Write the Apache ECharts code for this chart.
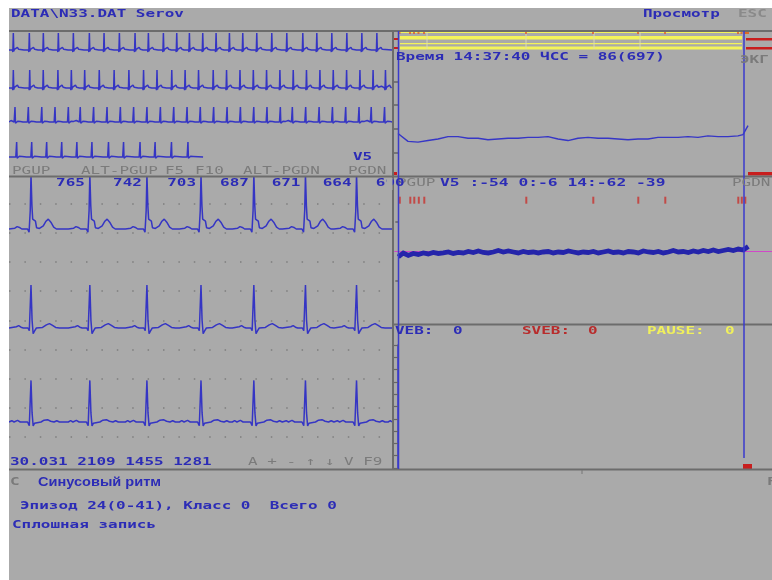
<!DOCTYPE html>
<html>
<head>
<meta charset="utf-8">
<script src="https://cdn.jsdelivr.net/npm/echarts@6/dist/echarts.min.js"></script>
<style>
html,body{margin:0;padding:0;background:#fff;}
#c{width:772px;height:580px;}
</style>
</head>
<body>
<div id="c"></div>
<script>
// ---------- data ----------
// overview rows: time of the first R wave (ms), RR intervals (ms), end of trace (ms)
const overviewStart = [227, 227, 315, 402];
const overviewRR1 = [840, 735, 788, 788, 840, 770, 805, 822, 700, 788, 700, 665, 700, 700, 700, 700, 735, 788, 788, 840, 735, 788, 788, 788, 788];
const overviewRR2 = [860, 710, 770, 705, 700, 765, 780, 775, 770, 705, 775, 700, 705, 770, 700, 705, 700, 695, 700, 700, 695, 705, 700, 700, 700, 690, 650];
const overviewRR3 = [700, 705, 695, 700, 625, 700, 705, 700, 695, 700, 705, 700, 700, 695, 700, 705, 700, 700, 695, 700, 630, 700, 705, 700, 695, 700, 640, 700];
const overviewRR4 = [790, 785, 790, 795, 790, 870, 790, 865, 790, 860, 865];
const overviewEnd = [20100, 20100, 20100, 10185];
// averaged complex used in the overview rows: [ms from R, relative amplitude]
const overviewBeat = [[-280, 0], [-210, 0.1], [-150, 0], [-45, 0], [-25, -0.12], [0, 1], [25, -0.08], [55, 0.04], [140, 0.05], [215, 0.16], [280, 0.04], [320, 0]];

// expanded strip: first R wave (ms) and the RR intervals printed above it
const firstBeat = 286;
const rrIntervals = [765, 742, 703, 687, 671, 664, 690];
// complexes of the three channels: [ms from R, mV]
const leadA = [[-280, 0], [-210, 0.03], [-180, 0.09], [-150, 0.06], [-120, 0], [-45, 0], [-25, -0.12], [-10, 0.7], [0, 2.1], [12, 0.9], [22, 0.38], [40, 0.32], [58, 0.3], [72, 0.05], [110, 0.02], [160, 0.12], [195, 0.3], [225, 0.38], [258, 0.26], [295, 0.07], [330, 0], [370, 0]];
const leadB = [[-280, 0], [-190, 0.05], [-160, 0.09], [-130, 0.03], [-100, 0], [-40, 0], [-22, -0.1], [0, 1.65], [14, 0.3], [28, -0.22], [45, -0.12], [70, 0], [150, 0.02], [200, 0.12], [240, 0.17], [280, 0.1], [320, 0.02], [370, 0]];
const leadC = [[-280, 0], [-250, 0.05], [-220, 0], [-175, 0.06], [-140, 0], [-45, 0], [-22, -0.14], [0, 1.6], [14, 0.35], [28, -0.15], [45, -0.05], [70, 0], [130, 0], [170, 0.07], [215, 0.09], [255, 0.03], [300, 0], [335, 0.05], [370, 0]];

// heart-rate trend (bpm) over the episode
const trendT = [0, 1, 2, 3, 4, 5, 6, 7, 8, 9, 10, 11, 12, 13, 14, 15, 16, 17, 18, 19, 20, 21, 22, 23, 24, 25, 26, 27, 28, 29, 30, 31, 32, 33, 34, 34.5, 35];
const trendHR = [94, 84, 83, 85, 87, 90, 90, 88, 88, 86, 87, 88, 88, 89, 89, 90, 87, 85, 88, 89, 88, 88, 87, 86, 87, 87, 89, 89, 89, 90, 89, 91, 90, 90, 91, 92.5, 104];
// ST level trend (µV), one sample per half unit
const stValues = [-12, -4, -9, -5, -7, -4, -6, -3, -5, -4, -2, -5, -3, -4, -1, -3, 0, -3, -4, -2, 1, -2, 0, -2, -4, -1, -3, -2, -4, -2, -1, -4, -2, -3, 0, -2, -4, -2, -3, -1, -4, -2, 0, -3, -2, -4, -1, -2, -4, 0, -2, -3, -1, -4, -2, 1, -2, -1, -3, 0, -2, 1, -1, 2, -1, 1, 3, 1, 4, 2, 9];
// event marks and episode boundaries on the trend time axis
const eventT = [0.15, 1.2, 1.6, 2.05, 2.6, 12.8, 19.5, 24.0, 26.7, 34.0, 34.35, 34.7];
const bandSplits = [2.9, 12.8, 19.6, 24.2];

// ---------- styling ----------
const BLUE = '#2c2cb6';
const TRACE = '#3535c4';
const GRAYTXT = '#7b7b7b';
const BORDER = '#6c6c6c';
const MONO = '"DejaVu Sans Mono"';

function beatTimes(start, rrs) {
  const t = [start];
  rrs.forEach(v => t.push(t[t.length - 1] + v));
  return t;
}
function buildTrace(beats, tpl, t0, t1, k) {
  const pts = [[t0, 0]];
  beats.forEach(r => tpl.forEach(([dt, v]) => {
    const t = r + dt;
    if (t > t0 && t < t1) pts.push([t, v * k]);
  }));
  pts.push([t1, 0]);
  pts.sort((a, b) => a[0] - b[0]);
  return pts;
}

const grids = [], xAxes = [], yAxes = [], series = [];
function addGrid(g, x, y) {
  grids.push(Object.assign({containLabel: false}, g));
  const i = grids.length - 1;
  xAxes.push(Object.assign({gridIndex: i, type: 'value', show: false}, x));
  yAxes.push(Object.assign({gridIndex: i, type: 'value', show: false}, y));
  return i;
}
function lineSeries(gi, data, color, width, extra) {
  return Object.assign({
    type: 'line', xAxisIndex: gi, yAxisIndex: gi, data: data, showSymbol: false, symbol: 'none',
    lineStyle: {color: color, width: width}, animation: false, clip: true, silent: true
  }, extra || {});
}

// overview rows
const ROW_BASE = [50, 88, 122, 157], ROW_H = [17, 18, 15, 15];
[overviewRR1, overviewRR2, overviewRR3, overviewRR4].forEach((rrs, r) => {
  const gi = addGrid({left: 9, width: 383, top: ROW_BASE[r] - 1.4 * ROW_H[r], height: 2.4 * ROW_H[r]},
    {min: 0, max: 20100}, {min: -1, max: 1.4});
  series.push(lineSeries(gi, buildTrace(beatTimes(overviewStart[r], rrs), overviewBeat, 0, overviewEnd[r], 1), TRACE, 1.5));
});

// expanded three-channel strip
const STRIP_BASE = [229, 328, 422], MV = 26, STRIP_MS = 383 * 13;
const stripBeats = beatTimes(firstBeat, rrIntervals);
const stripGrid = [];
[leadA, leadB, leadC].forEach((tpl, s) => {
  const gi = addGrid({left: 9, width: 383, top: STRIP_BASE[s] - 2 * MV, height: 3 * MV},
    {min: 0, max: STRIP_MS}, {min: -1, max: 2});
  stripGrid.push(gi);
  series.push(lineSeries(gi, buildTrace(stripBeats, tpl, 0, STRIP_MS, 1), TRACE, 1.5, {z: 5}));
});

// dotted time grid behind the strip
const dotGi = addGrid({left: 9, width: 383, top: 203.5, height: 233.6},
  {min: 0, max: 1},
  {show: true, min: 0, max: 8, interval: 1, axisLine: {show: false}, axisTick: {show: false}, axisLabel: {show: false},
   splitLine: {show: true, lineStyle: {color: '#7e7e7e', width: 1.5, type: [1.5, 13.9]}}});
series.push(lineSeries(dotGi, [], TRACE, 1));

// heart-rate trend
const trendGi = addGrid({left: 398, width: 350, top: 50, height: 126},
  {min: 0, max: 35},
  {show: true, min: 40, max: 200, axisLine: {show: false}, axisLabel: {show: false}, splitLine: {show: false},
   axisTick: {show: true, inside: false, length: 4, customValues: [70, 100, 130, 160], lineStyle: {color: '#666', width: 1.5}}});
series.push(lineSeries(trendGi, trendT.map((t, i) => [t, trendHR[i]]), '#3636c6', 1.4));

// overview band: event marks and episode separators
const bandGi = addGrid({left: 398, width: 350, top: 31, height: 19}, {min: 0, max: 35}, {min: 0, max: 19});
series.push({type: 'scatter', xAxisIndex: bandGi, yAxisIndex: bandGi, data: bandSplits.map(t => [t, 9.5]),
  symbol: 'rect', symbolSize: [1.2, 17], itemStyle: {color: '#dcdcb4'}, z: 20, silent: true, animation: false});
series.push({type: 'scatter', xAxisIndex: bandGi, yAxisIndex: bandGi, data: eventT.map(t => [t, 17]),
  symbol: 'rect', symbolSize: [2, 2], itemStyle: {color: '#e0602c'}, z: 21, silent: true, animation: false});

// ST trend with zero reference line
const stGi = addGrid({left: 394.3, width: 377.7, top: 177, height: 148},
  {min: -0.4, max: 37.37},
  {show: true, min: -150, max: 150, axisLine: {show: false}, axisLabel: {show: false}, splitLine: {show: false},
   axisTick: {show: true, inside: false, length: 3, customValues: [-60, 60], lineStyle: {color: '#666', width: 1.5}}});
series.push(lineSeries(stGi, stValues.map((v, i) => [i * 0.5, v]), '#2424aa', 4.8, {
  z: 6,
  lineStyle: {color: '#2424aa', width: 4.8, join: 'miter'},
  markLine: {silent: true, symbol: 'none', label: {show: false}, animation: false,
    lineStyle: {color: '#d048c8', width: 1, type: 'solid'}, data: [{yAxis: 0}]}
}));
series.push({type: 'scatter', xAxisIndex: stGi, yAxisIndex: stGi, data: eventT.map(t => [t, 103]),
  symbol: 'rect', symbolSize: [2, 7], itemStyle: {color: '#c8322e'}, z: 7, silent: true, animation: false});

// arrhythmia counters panel scale
const cntGi = addGrid({left: 398, width: 370, top: 345, height: 123},
  {min: 0, max: 1},
  {show: true, min: 0, max: 10, interval: 1, axisLabel: {show: false}, splitLine: {show: false},
   axisLine: {show: true, lineStyle: {color: '#3838c8', width: 1.5}},
   axisTick: {show: true, inside: false, length: 5, lineStyle: {color: '#666', width: 1.2}}});
series.push(lineSeries(cntGi, [], TRACE, 1));

const chart = echarts.init(document.getElementById('c'));
chart.setOption({
  backgroundColor: '#aaaaaa',
  animation: false,
  grid: grids, xAxis: xAxes, yAxis: yAxes, series: series
});

// ---------- screen furniture ----------
function txt(text, x, y, color, o) {
  o = o || {};
  return {
    type: 'text', x: x, y: y, scaleX: o.sx || 1.45, z: 30, silent: true,
    style: {text: text, x: 0, y: 0, fill: color, font: (o.w || 'bold') + ' ' + (o.size || 11) + 'px ' + (o.family || MONO),
      textAlign: o.align || 'left', textVerticalAlign: 'middle'}
  };
}
function hline(x1, x2, y, color, w) {
  return {type: 'line', z: 25, silent: true, shape: {x1: x1, y1: y, x2: x2, y2: y}, style: {stroke: color, lineWidth: w}};
}
function vline(x, y1, y2, color, w) {
  return {type: 'line', z: 25, silent: true, shape: {x1: x, y1: y1, x2: x, y2: y2}, style: {stroke: color, lineWidth: w}};
}
function box(x, y, w, h, color, z) {
  return {type: 'rect', z: z || 24, silent: true, shape: {x: x, y: y, width: w, height: h}, style: {fill: color}};
}

const YEL = '#f4f45a', RED = '#c81e1e';
const g = [
  // screen margins
  box(0, 0, 772, 8, '#ffffff', 40), box(0, 0, 9, 580, '#ffffff', 40),
  // panel frames
  hline(9, 772, 31, BORDER, 2), hline(9, 772, 176.5, BORDER, 2), hline(393, 772, 324.5, BORDER, 2), hline(9, 772, 469.5, BORDER, 2),
  vline(393, 31, 470, BORDER, 2), vline(582, 470, 474, '#777', 1),
  // overview band
  box(398, 31.5, 344, 1.6, YEL, 12), box(400, 36, 342, 3.6, YEL, 12), box(400, 43, 342, 1.2, YEL, 12), box(400, 46.5, 342, 3, YEL, 12),
  box(393, 38, 5, 2, RED), box(393, 47, 5, 2, RED), box(393, 172, 4, 3, RED),
  box(746, 38, 26, 2.5, RED), box(746, 47, 26, 2.5, RED), box(745, 32, 4, 2, '#e06a28'),
  box(748, 172, 24, 3.5, RED), box(743, 464, 9, 5, RED),
  // cursors
  vline(398.5, 31, 469, '#3a3acc', 1.5), vline(744, 31, 458, '#3a3acc', 1.5),
  // mask at the strip edge
  box(386.5, 178, 6, 12, '#aaaaaa', 32),
  // header
  txt('DATA\\N33.DAT Serov', 11, 14, BLUE),
  txt('Просмотр', 643, 14, BLUE),
  txt('ESC', 738, 14, '#8a8a8a'),
  txt('V5', 353, 157, BLUE),
  // key hints
  txt('PGUP', 12, 171, GRAYTXT, {w: 'normal'}), txt('ALT-PGUP', 81, 171, GRAYTXT, {w: 'normal'}),
  txt('F5', 165, 171, GRAYTXT, {w: 'normal'}), txt('F10', 195, 171, GRAYTXT, {w: 'normal'}),
  txt('ALT-PGDN', 243, 171, GRAYTXT, {w: 'normal'}), txt('PGDN', 348, 171, GRAYTXT, {w: 'normal'}),
  // trend panel
  txt('Время 14:37:40 ЧСС = 86(697)', 396, 57, BLUE),
  txt('ЭКГ', 740, 60, '#7a7a7a'),
  txt('PGUP', 397, 183, GRAYTXT, {w: 'normal'}),
  txt('V5 :-54 0:-6 14:-62 -39', 440, 183, BLUE, {sx: 1.48}),
  txt('PGDN', 732, 183, GRAYTXT, {w: 'normal'}),
  txt('VEB:', 395, 331, BLUE), txt('0', 453, 331, BLUE),
  txt('SVEB:', 522, 331, '#b82c2c'), txt('0', 588, 331, '#b82c2c'),
  txt('PAUSE:', 647, 331, '#f0f05c'), txt('0', 725, 331, '#f0f05c'),
  // status lines
  txt('30.031 2109 1455 1281', 10, 462, BLUE),
  txt('A + - ↑ ↓ V F9', 248, 462, GRAYTXT, {w: 'normal'}),
  txt('C', 10, 482, '#7a7a7a'),
  txt('Синусовый ритм', 38, 482, BLUE, {family: '"Liberation Sans"', size: 13, w: 'bold', sx: 1.12}),
  txt('F', 767, 482, '#7a7a7a'),
  txt('Эпизод 24(0-41), Класс 0  Всего 0', 20, 506, BLUE),
  txt('Сплошная запись', 12, 525, BLUE)
];
// RR values printed just left of the R wave that closes each interval
rrIntervals.forEach((rr, i) => {
  const p = chart.convertToPixel({gridIndex: stripGrid[0]}, [stripBeats[i + 1], 0]);
  g.push(txt(String(rr), p[0] - 5, 183, BLUE, {align: 'right'}));
});
chart.setOption({graphic: g});
</script>
</body>
</html>
